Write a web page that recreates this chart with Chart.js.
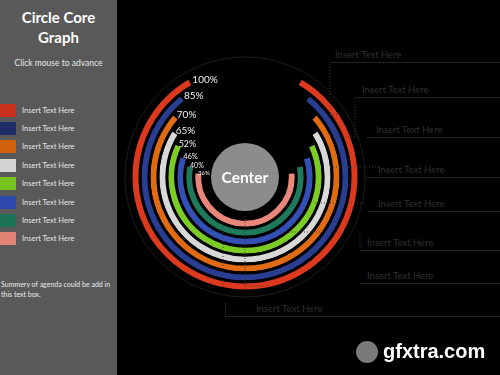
<!DOCTYPE html>
<html>
<head>
<meta charset="utf-8">
<script src="https://cdn.jsdelivr.net/npm/chart.js@4.4.1/dist/chart.umd.min.js"></script>
<style>
  html, body { margin: 0; padding: 0; background: #000; }
  #stage { position: relative; width: 500px; height: 375px; overflow: hidden; background: #000; font-family: Lato, "Open Sans", sans-serif; }
  #side { position: absolute; left: 0; top: 0; width: 117px; height: 375px; background: #595959; }
  #title { position: absolute; left: 0; top: 7px; width: 117px; text-align: center; color: #fff; font-weight: bold; font-size: 15px; line-height: 20px; }
  #hint { position: absolute; left: 0; top: 58px; width: 117px; text-align: center; color: #e6e6e6; font-size: 8.5px; }
  .key { position: absolute; left: 0; width: 117px; height: 13px; }
  .key i { position: absolute; left: 0; top: 0; width: 16px; height: 13px; }
  .key span { position: absolute; left: 22px; top: 1px; color: #e6e6e6; font-size: 7.5px; line-height: 11px; }
  #note { position: absolute; left: 1px; top: 279px; width: 112px; color: #ececec; font-size: 7px; line-height: 10px; }
  .box { position: absolute; color: #303030; font-size: 9.5px; border-bottom: 1px solid #222; height: 14px; line-height: 14px; }
  #mark { position: absolute; left: 383px; top: 340px; color: #fff; font-family: "Liberation Sans", Arial, sans-serif; font-weight: bold; font-size: 20px; }
  #logo { position: absolute; left: 356px; top: 341px; width: 22px; height: 22px; border-radius: 50%; background: #7a7a7a; }
  canvas { position: absolute; left: 0; top: 0; }
</style>
</head>
<body>
<div id="stage">
  <div id="side">
    <div id="title">Circle Core<br>Graph</div>
    <div id="hint">Click mouse to advance</div>
    <div id="keys"></div>
    <div id="note">Summery of agenda could be add in this text box.</div>
  </div>
  <div class="box" style="left:330px; top:48px; width:170px; padding-left:5px;">Insert Text Here</div>
  <div class="box" style="left:355px; top:83px; width:145px; padding-left:7px;">Insert Text Here</div>
  <div class="box" style="left:366px; top:123px; width:134px; padding-left:10px;">Insert Text Here</div>
  <div class="box" style="left:366px; top:163px; width:134px; padding-left:12px;">Insert Text Here</div>
  <div class="box" style="left:368px; top:197px; width:132px; padding-left:10px;">Insert Text Here</div>
  <div class="box" style="left:360px; top:236px; width:140px; padding-left:7px;">Insert Text Here</div>
  <div class="box" style="left:360px; top:269px; width:140px; padding-left:7px;">Insert Text Here</div>
  <div class="box" style="left:225px; top:302px; width:275px; padding-left:30px; border-left:1px solid #1e1e1e;">Insert Text Here</div>
  <canvas id="core" width="500" height="375"></canvas>
  <div id="logo"></div>
  <div id="mark">gfxtra.com</div>
</div>
<script>
// one ring per category, outermost first
const categories = ["Insert Text Here", "Insert Text Here", "Insert Text Here", "Insert Text Here",
  "Insert Text Here", "Insert Text Here", "Insert Text Here", "Insert Text Here"];
const percentValues = [100, 85, 70, 65, 52, 46, 40, 36];
// angle each arc sweeps round the centre (degrees)
const sweepDegrees = [301, 284, 263, 246, 232, 216, 204, 192];
const percentLabels = ["100%", "85%", "70%", "65%", "52%", "46%", "40%", "36%"];

const RING_COLORS = ["#dc3a1e", "#293d92", "#e06b12", "#d8d8d8", "#7ccc26", "#3450b6", "#1f7a5c", "#e8877a"];
const KEY_COLORS = ["#c8301c", "#1f2c6a", "#d2620e", "#d4d4d4", "#76c41f", "#2e49ad", "#1d7357", "#e08274"];
const LABEL_SIZES = [10, 10, 10, 10, 9, 7.5, 7, 6];
const KEY_TOPS = [104, 122, 140, 159, 177, 196, 214, 232];

const keys = document.getElementById("keys");
keys.innerHTML = categories.map((name, i) =>
  `<div class="key" style="top:${KEY_TOPS[i]}px"><i style="background:${KEY_COLORS[i]}"></i><span>${name}</span></div>`
).join("");

const CENTER_R = 34;

// faint guide circle, dotted leaders, centre disc and the percent tags
const decor = {
  id: "decor",
  beforeDatasetsDraw(chart) {
    const { ctx } = chart;
    const { x, y } = chart.getDatasetMeta(0).data[0];
    ctx.save();
    ctx.strokeStyle = "#1c1c1c";
    ctx.lineWidth = 1;
    ctx.beginPath();
    ctx.arc(x, y, 120, 0, Math.PI * 2);
    ctx.stroke();
    ctx.restore();
  },
  afterDatasetsDraw(chart) {
    const { ctx } = chart;
    const first = chart.getDatasetMeta(0).data[0];
    const cx = first.x, cy = first.y;

    ctx.save();
    ctx.strokeStyle = "#3a3a3a";
    ctx.lineWidth = 1;
    ctx.setLineDash([1, 2]);
    const segs = [
      [cx, 216, cx, 290], [cx - 22, 226, cx - 22, 288], [cx, 286, cx + 35, 286],
      [cx + 35, 232, cx + 100, 232], [cx + 70, 203, cx + 120, 203],
      [cx + 85, 167, cx + 135, 167], [cx + 85, 137, cx + 115, 137],
      [cx + 85, 115, cx + 100, 115], [330, 64, 330, 123], [355, 98, 355, 137],
      [cx + 115, 232, cx + 115, 250]
    ];
    segs.forEach(([x1, y1, x2, y2]) => {
      ctx.beginPath();
      ctx.moveTo(x1, y1);
      ctx.lineTo(x2, y2);
      ctx.stroke();
    });
    ctx.restore();

    ctx.save();
    ctx.fillStyle = "#8c8c8c";
    ctx.beginPath();
    ctx.arc(cx, cy, CENTER_R, 0, Math.PI * 2);
    ctx.fill();
    ctx.fillStyle = "#ffffff";
    ctx.font = "bold 15.5px Lato, 'Open Sans', sans-serif";
    ctx.textAlign = "center";
    ctx.textBaseline = "middle";
    ctx.fillText("Center", cx, cy + 1);

    ctx.textAlign = "left";
    chart.data.datasets.forEach((ds, i) => {
      const arc = chart.getDatasetMeta(i).data[0];
      const r = arc.outerRadius - 1;
      const tx = cx + r * Math.cos(arc.endAngle);
      const ty = cy + r * Math.sin(arc.endAngle);
      ctx.font = `${LABEL_SIZES[i]}px Lato, 'Open Sans', sans-serif`;
      ctx.fillStyle = "#f0f0f0";
      ctx.fillText(percentLabels[i], tx + 3, ty + 1);
    });
    ctx.restore();
  }
};

// each ring: the coloured sweep plus the empty gap that finishes the circle
new Chart(document.getElementById("core"), {
  type: "doughnut",
  data: {
    labels: ["value", "gap"],
    datasets: percentValues.map((v, i) => ({
      label: categories[i] + " " + v + "%",
      data: [sweepDegrees[i], 360 - sweepDegrees[i]],
      backgroundColor: [RING_COLORS[i], "rgba(0,0,0,0)"],
      borderColor: ["#000000", "rgba(0,0,0,0)"],
      borderWidth: [3, 0],
      rotation: (360 - sweepDegrees[i]) / 2,
    })),
  },
  options: {
    responsive: false,
    devicePixelRatio: 1,
    animation: false,
    radius: 114,
    cutout: 44,
    layout: { padding: { left: 125, right: 135, top: 57, bottom: 78 } },
    events: [],
    plugins: {
      legend: { display: false },
      tooltip: { enabled: false },
    },
  },
  plugins: [decor],
});
</script>
</body>
</html>
